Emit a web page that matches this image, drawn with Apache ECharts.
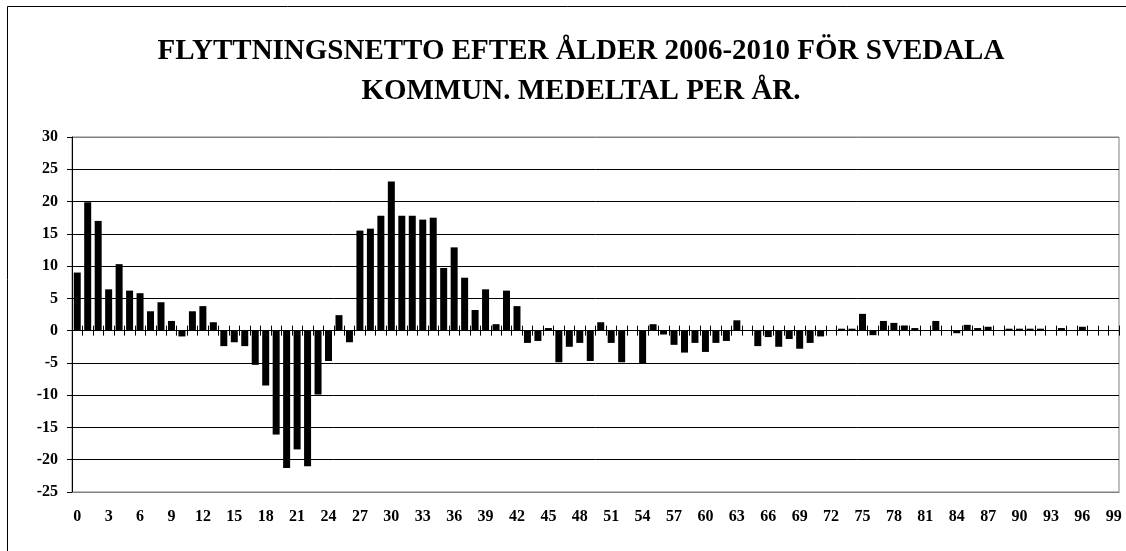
<!DOCTYPE html>
<html>
<head>
<meta charset="utf-8">
<script src="https://cdn.jsdelivr.net/npm/echarts@6/dist/echarts.min.js"></script>
<style>
    html, body { margin: 0; padding: 0; background: #fff; }
    #chart { width: 1126px; height: 551px; }
</style>
</head>
<body>
<div id="chart"></div>
<script>
// ålder 0..99
const ages = [];
for (let i = 0; i <= 99; i++) ages.push(String(i));

// flyttningsnetto, medeltal per år
const netto = [
    9.0, 19.9, 17.0, 6.4, 10.3, 6.2, 5.8, 3.0, 4.4, 1.5,
    -0.9, 3.0, 3.8, 1.3, -2.4, -1.8, -2.4, -5.3, -8.5, -16.1,
    -21.3, -18.4, -21.0, -9.9, -4.7, 2.4, -1.8, 15.5, 15.8, 17.8,
    23.1, 17.8, 17.8, 17.2, 17.5, 9.7, 12.9, 8.2, 3.2, 6.4,
    1.0, 6.2, 3.8, -1.9, -1.6, 0.4, -4.9, -2.5, -1.9, -4.7,
    1.3, -1.9, -4.9, 0, -5.1, 1.0, -0.6, -2.2, -3.4, -1.9,
    -3.3, -1.9, -1.6, 1.6, 0, -2.4, -1.0, -2.5, -1.3, -2.8,
    -1.9, -0.9, 0, 0.3, 0.3, 2.6, -0.7, 1.5, 1.2, 0.8,
    0.4, 0, 1.5, 0, -0.4, 0.9, 0.4, 0.6, 0, 0.3,
    0.3, 0.3, 0.3, 0, 0.4, 0, 0.6, 0, 0, 0
];

const titleLines = [
    'FLYTTNINGSNETTO EFTER ÅLDER 2006-2010 FÖR SVEDALA',
    'KOMMUN. MEDELTAL PER ÅR.'
];

const font = '"Liberation Serif", "Times New Roman", serif';

let chartDom = document.getElementById('chart');
let myChart = echarts.init(chartDom);
let option;

// linjefärger: yttre linjer grå, övriga svarta
let splitColors = [];
for (let v = -25; v <= 30; v += 5) {
    splitColors.push(v === -25 || v === 30 ? '#808080' : '#000000');
}

option = {
    animation: false,
    backgroundColor: '#ffffff',
    title: {
        text: titleLines.join('\n'),
        left: 576,
        top: 27,
        textAlign: 'center',
        textStyle: {
            fontFamily: font,
            fontSize: 29,
            fontWeight: 'bold',
            color: '#000',
            lineHeight: 40
        }
    },
    graphic: [{
        type: 'rect',
        shape: { x: 7.5, y: 6.5, width: 1140, height: 570 },
        style: { fill: null, stroke: '#000', lineWidth: 1 },
        silent: true
    }],
    grid: {
        left: 72,
        right: 7,
        top: 137,
        bottom: 59,
        show: true,
        borderColor: '#808080',
        borderWidth: 1
    },
    xAxis: [
        {
            type: 'category',
            data: ages,
            position: 'bottom',
            axisLine: { onZero: false, lineStyle: { color: '#808080' } },
            axisTick: { show: false },
            axisLabel: {
                interval: 2,
                margin: 17,
                fontFamily: font,
                fontSize: 16,
                fontWeight: 'bold',
                color: '#000'
            }
        },
        {
            // nollinjen med streck nedåt
            type: 'category',
            data: ages,
            position: 'bottom',
            axisLine: { onZero: true, onZeroAxisIndex: 0, lineStyle: { color: '#000' } },
            axisTick: { show: true, interval: 0, length: 5, lineStyle: { color: '#000' } },
            axisLabel: { show: false }
        },
        {
            // streck uppåt från nollinjen
            type: 'category',
            data: ages,
            position: 'top',
            axisLine: { onZero: true, onZeroAxisIndex: 1, show: false },
            axisTick: { show: true, interval: 0, length: 5, lineStyle: { color: '#000' } },
            axisLabel: { show: false }
        }
    ],
    yAxis: [
        {
            type: 'value',
            min: -25,
            max: 30,
            interval: 5,
            axisLine: { show: true, lineStyle: { color: '#000' } },
            axisTick: { show: true, length: 5, lineStyle: { color: '#000' } },
            axisLabel: {
                margin: 14,
                fontFamily: font,
                fontSize: 16,
                fontWeight: 'bold',
                color: '#000'
            },
            splitLine: { show: true, lineStyle: { color: splitColors, width: 1 } }
        },
        {
            type: 'value',
            min: -25,
            max: 30,
            interval: 5,
            position: 'right',
            axisLine: { show: false },
            axisTick: { show: false },
            axisLabel: { show: false },
            splitLine: { show: false }
        }
    ],
    series: [
        {
            name: 'Flyttningsnetto',
            type: 'bar',
            xAxisIndex: 0,
            yAxisIndex: 0,
            data: netto,
            barWidth: 7,
            itemStyle: { color: '#000' }
        }
    ]
};
option && myChart.setOption(option);
</script>
</body>
</html>
